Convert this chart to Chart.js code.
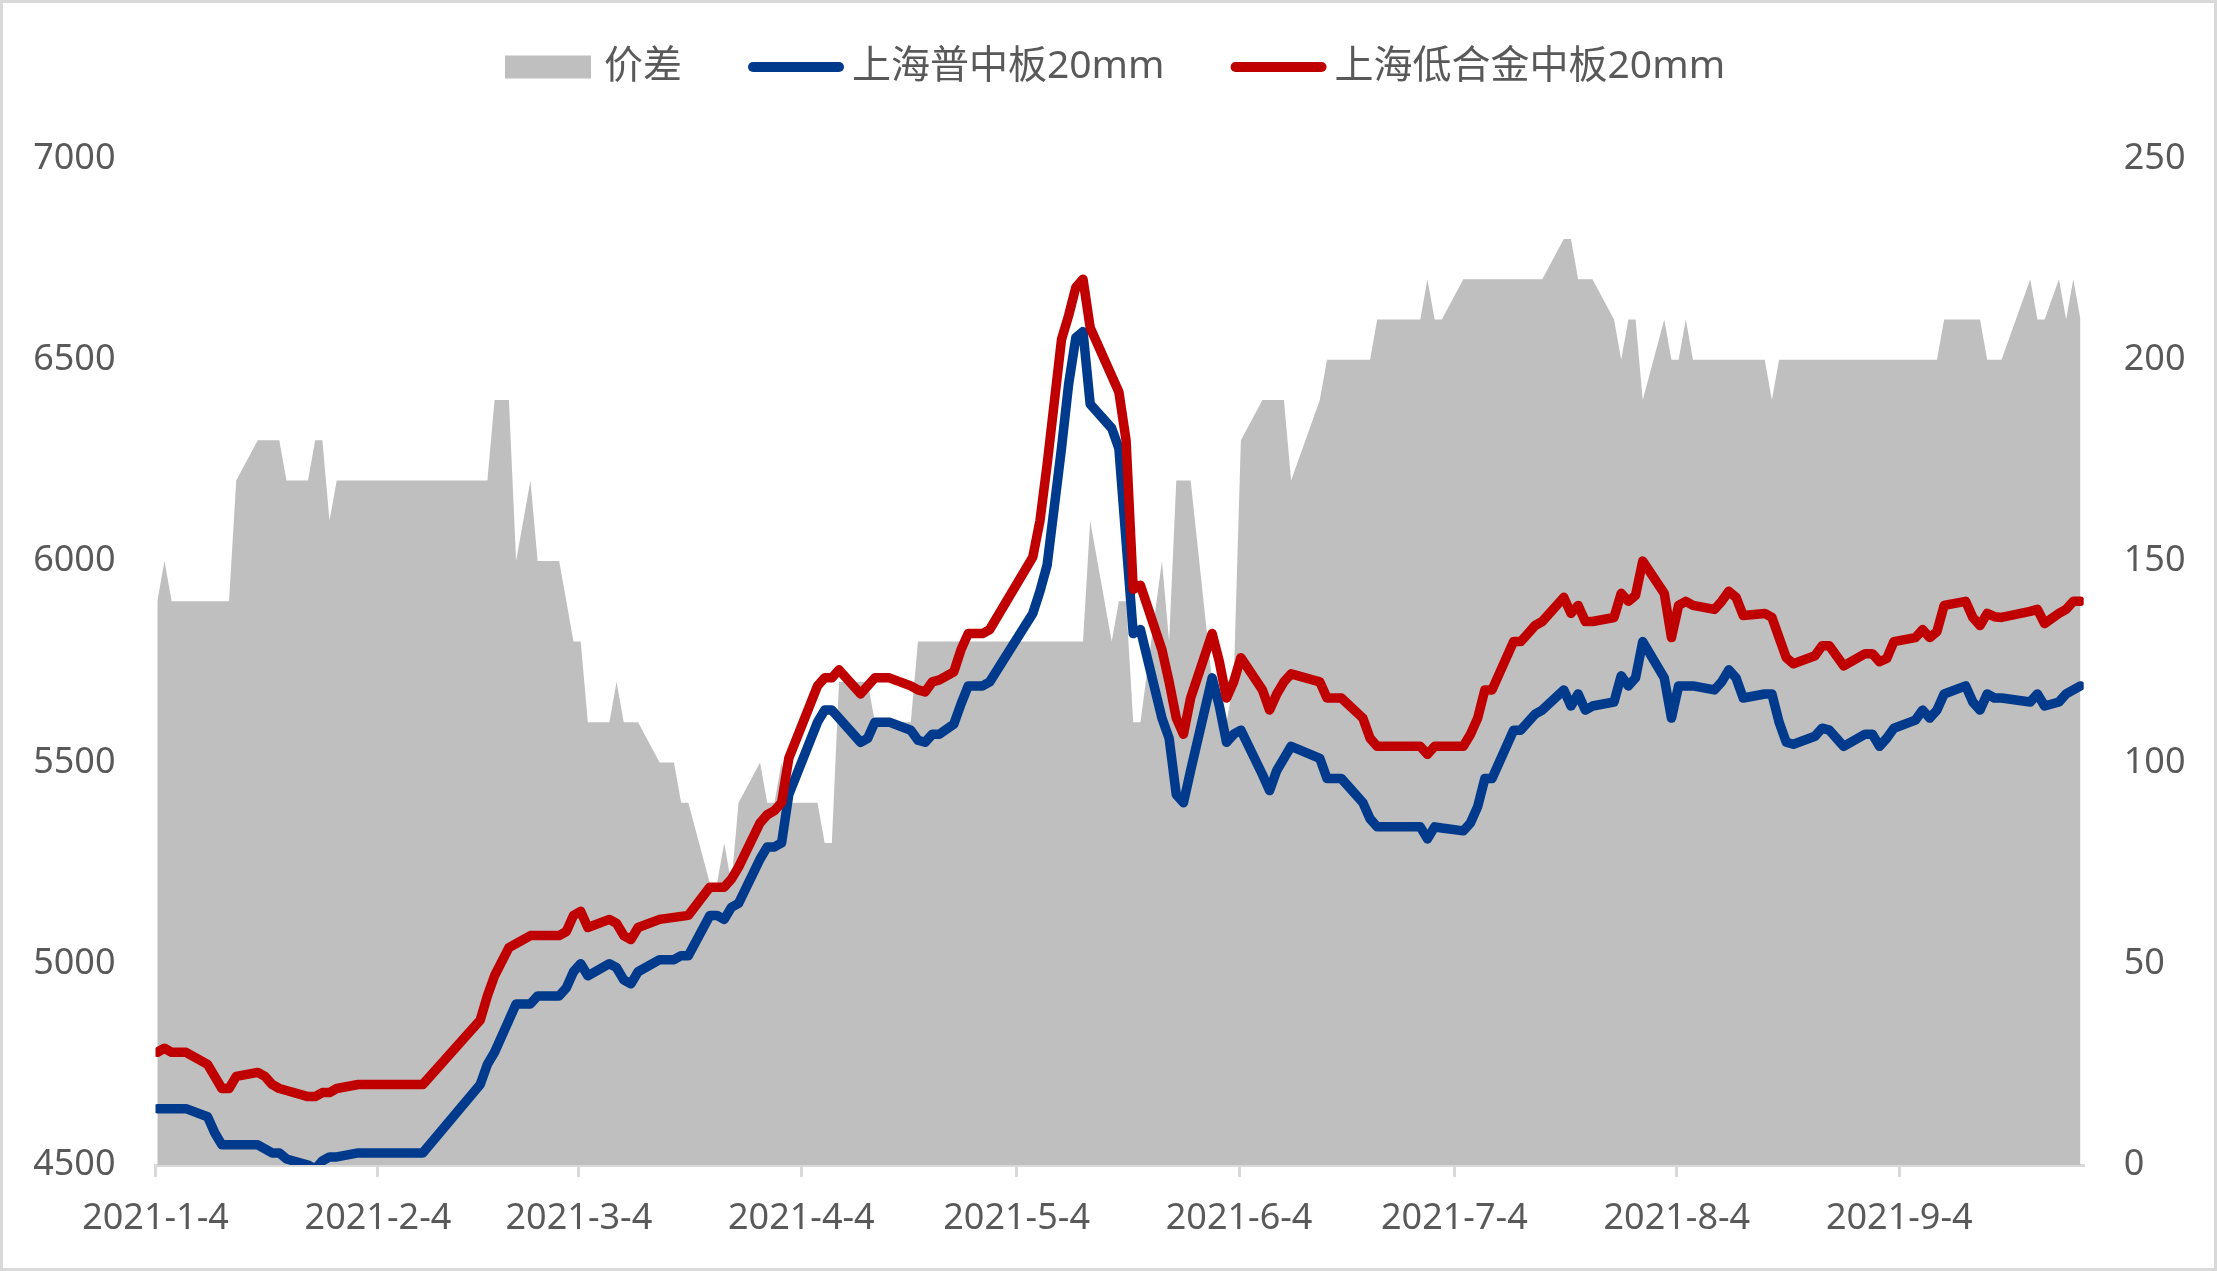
<!DOCTYPE html>
<html>
<head>
<meta charset="utf-8">
<script src="https://cdn.jsdelivr.net/npm/chart.js@4.4.0/dist/chart.umd.min.js"></script>
<style>
  html, body { margin: 0; padding: 0; background: #fff; }
  #wrap { width: 2217px; height: 1271px; box-sizing: border-box; border: 3px solid #d9d9d9; }
  canvas { display: block; }
</style>
</head>
<body>
<div id="wrap"><canvas id="chart" width="2211" height="1265"></canvas></div>
<script>
// x tick labels (calendar axis, one per month)
const tickLabels = ['2021-1-4', '2021-2-4', '2021-3-4', '2021-4-4', '2021-5-4',
  '2021-6-4', '2021-7-4', '2021-8-4', '2021-9-4'];

// 价差 (right axis)
const spreadDates = ['1-4', '1-5', '1-6', '1-14', '1-15', '1-18', '1-21', '1-22', '1-25', '1-26',
  '1-27', '1-28', '1-29', '2-19', '2-20', '2-22', '2-23', '2-25', '2-26', '3-1',
  '3-3', '3-4', '3-5', '3-8', '3-9', '3-10', '3-12', '3-15', '3-17', '3-18',
  '3-19', '3-22', '3-23', '3-24', '3-25', '3-26', '3-29', '3-30', '3-31', '4-1',
  '4-2', '4-6', '4-7', '4-8', '4-9', '4-13', '4-14', '4-19', '4-20', '5-13',
  '5-14', '5-17', '5-18', '5-19', '5-20', '5-21', '5-24', '5-25', '5-26', '5-28',
  '5-31', '6-1', '6-2', '6-3', '6-4', '6-7', '6-10', '6-11', '6-15', '6-16',
  '6-22', '6-23', '6-29', '6-30', '7-1', '7-2', '7-5', '7-16', '7-19', '7-20',
  '7-21', '7-23', '7-26', '7-27', '7-28', '7-29', '7-30', '8-2', '8-3', '8-4',
  '8-5', '8-6', '8-16', '8-17', '8-18', '9-9', '9-10', '9-15', '9-16', '9-18',
  '9-22', '9-23', '9-24', '9-26', '9-27', '9-28', '9-29'];
const spreadValues = [140, 150, 140, 140, 170, 180, 180, 170, 170, 180,
  180, 160, 170, 170, 190, 190, 150, 170, 150, 150,
  130, 130, 110, 110, 120, 110, 110, 100, 100, 90,
  90, 70, 70, 80, 70, 90, 100, 90, 90, 100,
  90, 90, 80, 80, 120, 120, 110, 110, 130, 130,
  160, 130, 140, 140, 110, 110, 150, 130, 170, 170,
  120, 110, 110, 120, 180, 190, 190, 170, 190, 200,
  200, 210, 210, 220, 210, 210, 220, 220, 230, 230,
  220, 220, 210, 200, 210, 210, 190, 210, 200, 200,
  210, 200, 200, 190, 200, 200, 210, 210, 200, 200,
  220, 210, 210, 220, 210, 220, 210];

// 上海普中板20mm (left axis)
const plainDates = ['1-4', '1-8', '1-11', '1-12', '1-13', '1-18', '1-19', '1-20', '1-21', '1-22',
  '1-25', '1-26', '1-27', '1-28', '1-29', '2-1', '2-10', '2-18', '2-19', '2-20',
  '2-22', '2-23', '2-25', '2-26', '3-1', '3-2', '3-3', '3-4', '3-5', '3-8',
  '3-9', '3-10', '3-11', '3-12', '3-15', '3-17', '3-18', '3-19', '3-22', '3-23',
  '3-24', '3-25', '3-26', '3-29', '3-30', '3-31', '4-1', '4-2', '4-6', '4-7',
  '4-8', '4-9', '4-12', '4-13', '4-14', '4-16', '4-19', '4-20', '4-21', '4-22',
  '4-23', '4-25', '4-26', '4-27', '4-29', '4-30', '5-6', '5-7', '5-8', '5-10',
  '5-11', '5-12', '5-13', '5-14', '5-17', '5-18', '5-19', '5-20', '5-21', '5-24',
  '5-25', '5-26', '5-27', '5-28', '5-31', '6-1', '6-2', '6-3', '6-4', '6-7',
  '6-8', '6-9', '6-10', '6-11', '6-15', '6-16', '6-18', '6-21', '6-22', '6-23',
  '6-29', '6-30', '7-1', '7-2', '7-5', '7-6', '7-7', '7-8', '7-9', '7-12',
  '7-13', '7-14', '7-15', '7-16', '7-19', '7-20', '7-21', '7-22', '7-23', '7-26',
  '7-27', '7-28', '7-29', '7-30', '8-2', '8-3', '8-4', '8-6', '8-9', '8-10',
  '8-11', '8-12', '8-13', '8-16', '8-17', '8-18', '8-19', '8-20', '8-23', '8-24',
  '8-25', '8-26', '8-27', '8-30', '8-31', '9-1', '9-2', '9-3', '9-6', '9-7',
  '9-8', '9-9', '9-10', '9-13', '9-14', '9-15', '9-16', '9-17', '9-18', '9-22',
  '9-23', '9-24', '9-26', '9-27', '9-28', '9-29'];
const plainValues = [4640, 4640, 4620, 4580, 4550, 4550, 4540, 4530, 4530, 4515,
  4500, 4490, 4510, 4520, 4520, 4530, 4530, 4700, 4750, 4780,
  4860, 4900, 4900, 4920, 4920, 4940, 4980, 5000, 4970, 5000,
  4990, 4960, 4950, 4980, 5010, 5010, 5020, 5020, 5120, 5120,
  5110, 5140, 5150, 5260, 5290, 5290, 5300, 5420, 5600, 5630,
  5630, 5610, 5550, 5560, 5600, 5600, 5580, 5555, 5550, 5570,
  5570, 5595, 5645, 5690, 5690, 5700, 5870, 5925, 5990, 6280,
  6440, 6555, 6570, 6390, 6330, 6280, 6050, 5820, 5830, 5610,
  5560, 5420, 5400, 5480, 5710, 5640, 5550, 5570, 5580, 5470,
  5430, 5480, 5510, 5540, 5510, 5460, 5460, 5400, 5360, 5340,
  5340, 5310, 5340, 5337, 5330, 5350, 5390, 5460, 5460, 5580,
  5580, 5600, 5620, 5630, 5680, 5640, 5670, 5630, 5640, 5650,
  5715, 5690, 5710, 5800, 5710, 5610, 5690, 5690, 5680, 5700,
  5730, 5710, 5660, 5670, 5670, 5600, 5550, 5545, 5565, 5585,
  5580, 5560, 5540, 5570, 5570, 5540, 5560, 5585, 5605, 5630,
  5610, 5630, 5670, 5690, 5650, 5630, 5670, 5660, 5660, 5650,
  5670, 5640, 5650, 5670, 5680, 5690];

// 上海低合金中板20mm (left axis)
const alloyDates = ['1-4', '1-5', '1-6', '1-8', '1-11', '1-12', '1-13', '1-14', '1-15', '1-18',
  '1-19', '1-20', '1-21', '1-22', '1-25', '1-26', '1-27', '1-28', '1-29', '2-1',
  '2-10', '2-18', '2-19', '2-20', '2-22', '2-23', '2-24', '2-25', '3-1', '3-2',
  '3-3', '3-4', '3-5', '3-8', '3-9', '3-10', '3-11', '3-12', '3-15', '3-19',
  '3-22', '3-24', '3-25', '3-26', '3-29', '3-30', '3-31', '4-1', '4-2', '4-6',
  '4-7', '4-8', '4-9', '4-12', '4-13', '4-14', '4-16', '4-19', '4-20', '4-21',
  '4-22', '4-23', '4-25', '4-26', '4-27', '4-29', '4-30', '5-6', '5-7', '5-8',
  '5-10', '5-11', '5-12', '5-13', '5-14', '5-17', '5-18', '5-19', '5-20', '5-21',
  '5-24', '5-25', '5-26', '5-27', '5-28', '5-31', '6-1', '6-2', '6-3', '6-4',
  '6-7', '6-8', '6-9', '6-10', '6-11', '6-15', '6-16', '6-18', '6-21', '6-22',
  '6-23', '6-29', '6-30', '7-1', '7-5', '7-6', '7-7', '7-8', '7-9', '7-12',
  '7-13', '7-14', '7-15', '7-16', '7-19', '7-20', '7-21', '7-22', '7-23', '7-26',
  '7-27', '7-28', '7-29', '7-30', '8-2', '8-3', '8-4', '8-5', '8-6', '8-9',
  '8-10', '8-11', '8-12', '8-13', '8-16', '8-17', '8-18', '8-19', '8-20', '8-23',
  '8-24', '8-25', '8-26', '8-27', '8-30', '8-31', '9-1', '9-2', '9-3', '9-6',
  '9-7', '9-8', '9-9', '9-10', '9-13', '9-14', '9-15', '9-16', '9-17', '9-18',
  '9-22', '9-23', '9-24', '9-26', '9-27', '9-28', '9-29'];
const alloyValues = [4780, 4790, 4780, 4780, 4750, 4720, 4690, 4690, 4720, 4730,
  4720, 4700, 4690, 4685, 4670, 4670, 4680, 4680, 4690, 4700,
  4700, 4860, 4920, 4970, 5040, 5050, 5060, 5070, 5070, 5080,
  5120, 5130, 5090, 5110, 5100, 5070, 5060, 5090, 5110, 5120,
  5190, 5190, 5210, 5240, 5350, 5370, 5380, 5400, 5510, 5690,
  5710, 5710, 5730, 5670, 5690, 5710, 5710, 5690, 5680, 5675,
  5700, 5705, 5725, 5780, 5820, 5820, 5830, 6010, 6100, 6240,
  6550, 6610, 6680, 6700, 6580, 6460, 6420, 6300, 5930, 5940,
  5780, 5700, 5610, 5570, 5660, 5820, 5750, 5660, 5700, 5760,
  5680, 5630, 5670, 5700, 5720, 5700, 5660, 5660, 5610, 5560,
  5540, 5540, 5520, 5540, 5540, 5570, 5610, 5680, 5680, 5800,
  5800, 5820, 5840, 5850, 5910, 5870, 5890, 5850, 5850, 5860,
  5920, 5900, 5915, 6000, 5920, 5810, 5890, 5900, 5890, 5880,
  5900, 5925, 5910, 5865, 5870, 5860, 5810, 5760, 5745, 5765,
  5790, 5790, 5765, 5740, 5770, 5770, 5750, 5758, 5800, 5810,
  5830, 5810, 5825, 5890, 5900, 5860, 5840, 5870, 5862, 5860,
  5875, 5880, 5845, 5870, 5880, 5900, 5900];

const YEAR = 2021;
const START = Date.UTC(YEAR, 0, 4);
const dayOf = str => {
  const parts = str.split('-').map(Number);
  const [m, d] = parts.length === 3 ? parts.slice(1) : parts;
  return (Date.UTC(YEAR, m - 1, d) - START) / 86400000;
};
// points sit a little right of the day's tick, like the original date axis
const toPoints = (dates, values) => dates.map((d, i) => ({ x: dayOf(d) + 0.25, y: values[i] }));

const tickDays = tickLabels.map(dayOf);
const FONT = '"Noto Sans", "Noto Sans CJK SC", sans-serif';
Chart.defaults.font.family = FONT;

/**
 * Legend row on top: grey box for the area, short thick lines for the two prices
 */
const topLegend = {
  id: 'topLegend',
  afterDraw(chart) {
    const { ctx } = chart;
    const itemGap = 66;
    ctx.save();
    ctx.font = `39px ${FONT}`;
    ctx.textBaseline = 'middle';
    let x = 502;
    const cy = 64;
    chart.data.datasets.forEach(ds => {
      const markW = ds.fill ? 86 : 96;
      if (ds.fill) {
        ctx.fillStyle = ds.backgroundColor;
        ctx.fillRect(x, cy - 11.5, markW, 23);
      } else {
        ctx.strokeStyle = ds.borderColor;
        ctx.lineWidth = 10;
        ctx.lineCap = 'round';
        ctx.beginPath();
        ctx.moveTo(x + 5, cy);
        ctx.lineTo(x + markW - 5, cy);
        ctx.stroke();
      }
      x += markW + (ds.fill ? 13 : 8);
      ctx.fillStyle = '#595959';
      ctx.fillText(ds.label, x, cy);
      x += ctx.measureText(ds.label).width + itemGap;
    });
    ctx.restore();
  },
};

const tickStyle = { color: '#595959', font: { size: 36 } };

new Chart(document.getElementById('chart'), {
  type: 'line',
  data: {
    datasets: [
      {
        label: '价差',
        data: toPoints(spreadDates, spreadValues),
        yAxisID: 'y1',
        fill: 'origin',
        backgroundColor: '#bfbfbf',
        borderWidth: 0,
        pointRadius: 0,
        order: 3,
      },
      {
        label: '上海普中板20mm',
        data: toPoints(plainDates, plainValues),
        yAxisID: 'y',
        borderColor: '#003a8c',
        borderWidth: 9.5,
        borderCapStyle: 'round',
        borderJoinStyle: 'round',
        pointRadius: 0,
        fill: false,
        order: 2,
      },
      {
        label: '上海低合金中板20mm',
        data: toPoints(alloyDates, alloyValues),
        yAxisID: 'y',
        borderColor: '#c00000',
        borderWidth: 9.5,
        borderCapStyle: 'round',
        borderJoinStyle: 'round',
        pointRadius: 0,
        fill: false,
        order: 1,
      },
    ],
  },
  options: {
    responsive: false,
    animation: false,
    layout: { padding: { top: 155.5, left: 0, right: 0, bottom: 0 } },
    plugins: {
      legend: { display: false },
      tooltip: { enabled: false },
    },
    scales: {
      x: {
        type: 'linear',
        min: 0,
        max: 268.7,
        afterBuildTicks: scale => {
          scale.ticks = tickDays.map(value => ({ value }));
        },
        afterFit: scale => {
          scale.height = 103;
        },
        ticks: {
          ...tickStyle,
          autoSkip: false,
          maxRotation: 0,
          padding: 20,
          callback: value => tickLabels[tickDays.indexOf(value)] || '',
        },
        grid: {
          drawOnChartArea: false,
          drawTicks: true,
          tickLength: 12,
          color: '#d9d9d9',
          lineWidth: 3,
        },
        border: { color: '#d9d9d9', width: 3 },
      },
      y: {
        position: 'left',
        min: 4500,
        max: 7000,
        afterFit: scale => {
          scale.width = 152.5;
        },
        ticks: { ...tickStyle, stepSize: 500, padding: 40, callback: value => String(value) },
        grid: { display: false, drawTicks: false },
        border: { display: false },
      },
      y1: {
        position: 'right',
        min: 0,
        max: 250,
        afterFit: scale => {
          scale.width = 130.3;
        },
        ticks: { ...tickStyle, stepSize: 50, padding: 40, callback: value => String(value) },
        grid: { display: false, drawTicks: false },
        border: { display: false },
      },
    },
  },
  plugins: [topLegend],
});
</script>
</body>
</html>
